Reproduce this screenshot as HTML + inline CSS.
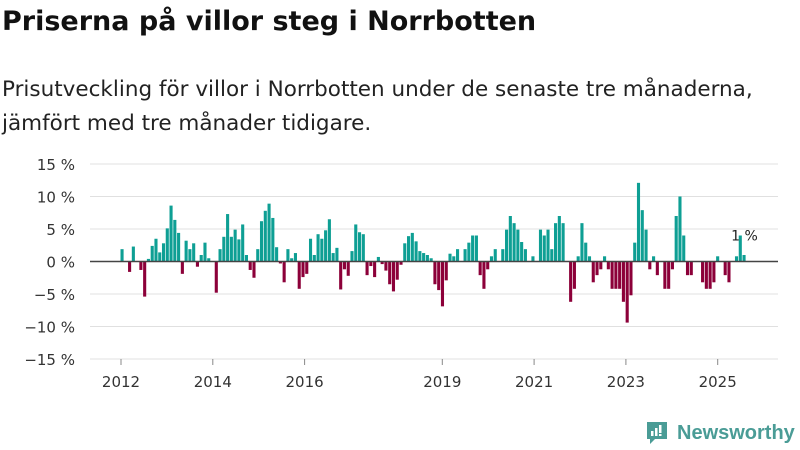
<!DOCTYPE html>
<html><head><meta charset="utf-8">
<style>
body{margin:0;background:#fff;font-family:"DejaVu Sans","Liberation Sans",sans-serif;}
#wrap{position:relative;width:800px;height:450px;overflow:hidden;}
h1{position:absolute;left:2px;top:6px;margin:0;font-size:27px;font-weight:bold;color:#111;white-space:nowrap;}
.sub{position:absolute;left:2px;top:73px;margin:0;font-size:21.5px;line-height:34px;color:#222;white-space:nowrap;}
#chart{position:absolute;left:0;top:0;}
.logo{position:absolute;left:645px;top:420px;font-size:20px;color:#4a9c96;font-weight:bold;white-space:nowrap;display:flex;align-items:center;font-family:"Liberation Sans",sans-serif;}
</style></head><body>
<div id="wrap">
<h1>Priserna på villor steg i Norrbotten</h1>
<p class="sub">Prisutveckling för villor i Norrbotten under de senaste tre månaderna,<br>jämfört med tre månader tidigare.</p>
<svg id="chart" width="800" height="450"></svg>
<div class="logo"><svg width="24" height="26" viewBox="0 0 24 26" style="margin-right:8px"><path d="M2 2h20v17H10l-5 5v-5H2z" fill="#4a9c96"/><rect x="6" y="11" width="2.5" height="5" fill="#fff"/><rect x="10" y="8" width="2.5" height="8" fill="#fff"/><rect x="14" y="5" width="2.5" height="8" fill="#fff"/><rect x="14" y="14" width="2.5" height="2" fill="#fff"/></svg><span>Newsworthy</span></div>
</div>
<script>
const values = [1.9,0,-1.6,2.3,0,-1.3,-5.4,0.4,2.4,3.5,1.4,2.8,5.1,8.6,6.4,4.4,-1.9,3.2,1.9,2.8,-0.8,1.0,2.9,0.5,0,-4.8,1.9,3.8,7.3,3.8,4.9,3.4,5.7,1.0,-1.3,-2.5,1.9,6.2,7.8,8.9,6.7,2.2,-0.3,-3.2,1.9,0.5,1.3,-4.2,-2.4,-1.9,3.5,1.0,4.2,3.5,4.8,6.5,1.3,2.1,
-4.3,-1.2,-2.2,1.6,5.7,4.5,4.2,-2.1,-0.7,-2.4,0.7,-0.4,-1.4,-3.5,-4.6,-2.8,-0.5,2.8,3.9,4.4,3.1,1.6,1.3,1.0,0.5,-3.5,-4.4,-6.9,-2.9,1.2,0.8,1.9,0,1.9,2.9,4.0,4.0,-2.1,-4.2,-1.2,0.8,1.9,0,1.9,4.9,7.0,5.9,4.9,3.0,1.9,0,0.8,0,4.9,4.0,4.9,1.9,5.9,7.0,5.9,
0,-6.2,-4.2,0.8,5.9,2.9,0.8,-3.2,-2.1,-1.2,0.8,-1.2,-4.2,-4.2,-4.2,-6.2,-9.4,-5.2,2.9,12.1,7.9,4.9,-1.2,0.8,-2.1,0,-4.2,-4.2,-1.2,7.0,10.0,4.0,-2.1,-2.1,0,0,-3.2,-4.2,-4.2,-3.2,0.8,0,-2.1,-3.2,0,0.8,4.0,1.0];
const yTicks = [15,10,5,0,-5,-10,-15];
const yTickLabels = ["15 %","10 %","5 %","0 %","−5 %","−10 %","−15 %"];
const xTickYears = [2012,2014,2016,2019,2021,2023,2025];
const lastLabel = "1 %";

const svg = document.getElementById('chart');
const NS = 'http://www.w3.org/2000/svg';
const FF = 'DejaVu Sans, Liberation Sans, sans-serif';
const y = v => 261.5 - v * 6.5;
const xBar = i => 120.5 + i * (622 / 165);
const xYear = yr => 121 + (yr - 2012) * 45.9;
function mk(tag, attrs){const e=document.createElementNS(NS,tag);for(const k in attrs)e.setAttribute(k,attrs[k]);svg.appendChild(e);return e;}

yTicks.forEach((t,i)=>{
  if(t!==0){const g=mk('line',{x1:90,x2:778,y1:y(t),y2:y(t),stroke:'#e0e0e0','stroke-width':1});
  
  }
  const l=mk('text',{x:75,y:y(t)+6,'text-anchor':'end','font-size':15,fill:'#333','font-family':FF});
  l.textContent=yTickLabels[i];
  
  
});
xTickYears.forEach(yr=>{
  const tk=mk('line',{x1:xYear(yr),x2:xYear(yr),y1:359,y2:365,stroke:'#888','stroke-width':1});
  
  
  const l=mk('text',{x:xYear(yr),y:387,'text-anchor':'middle','font-size':15,fill:'#333','font-family':FF});
  l.textContent=yr;
  
  
});
values.forEach((v,i)=>{
  if(v===0)return;
  const top=Math.min(y(v),y(0)), h=Math.abs(y(v)-y(0));
  const r=mk('rect',{x:xBar(i),y:top,width:3.1,height:h,fill:v>0?'#0e9f94':'#8c0039'});
  
  
});
const z=mk('line',{x1:90,x2:778,y1:y(0),y2:y(0),stroke:'#444','stroke-width':1.5});


const li=values.length-1;
const lbl=mk('text',{x:xBar(li)+2,y:y(4)+5,'text-anchor':'middle','font-size':14,fill:'#222','font-family':FF});
lbl.textContent=lastLabel;


</script>
</body></html>
